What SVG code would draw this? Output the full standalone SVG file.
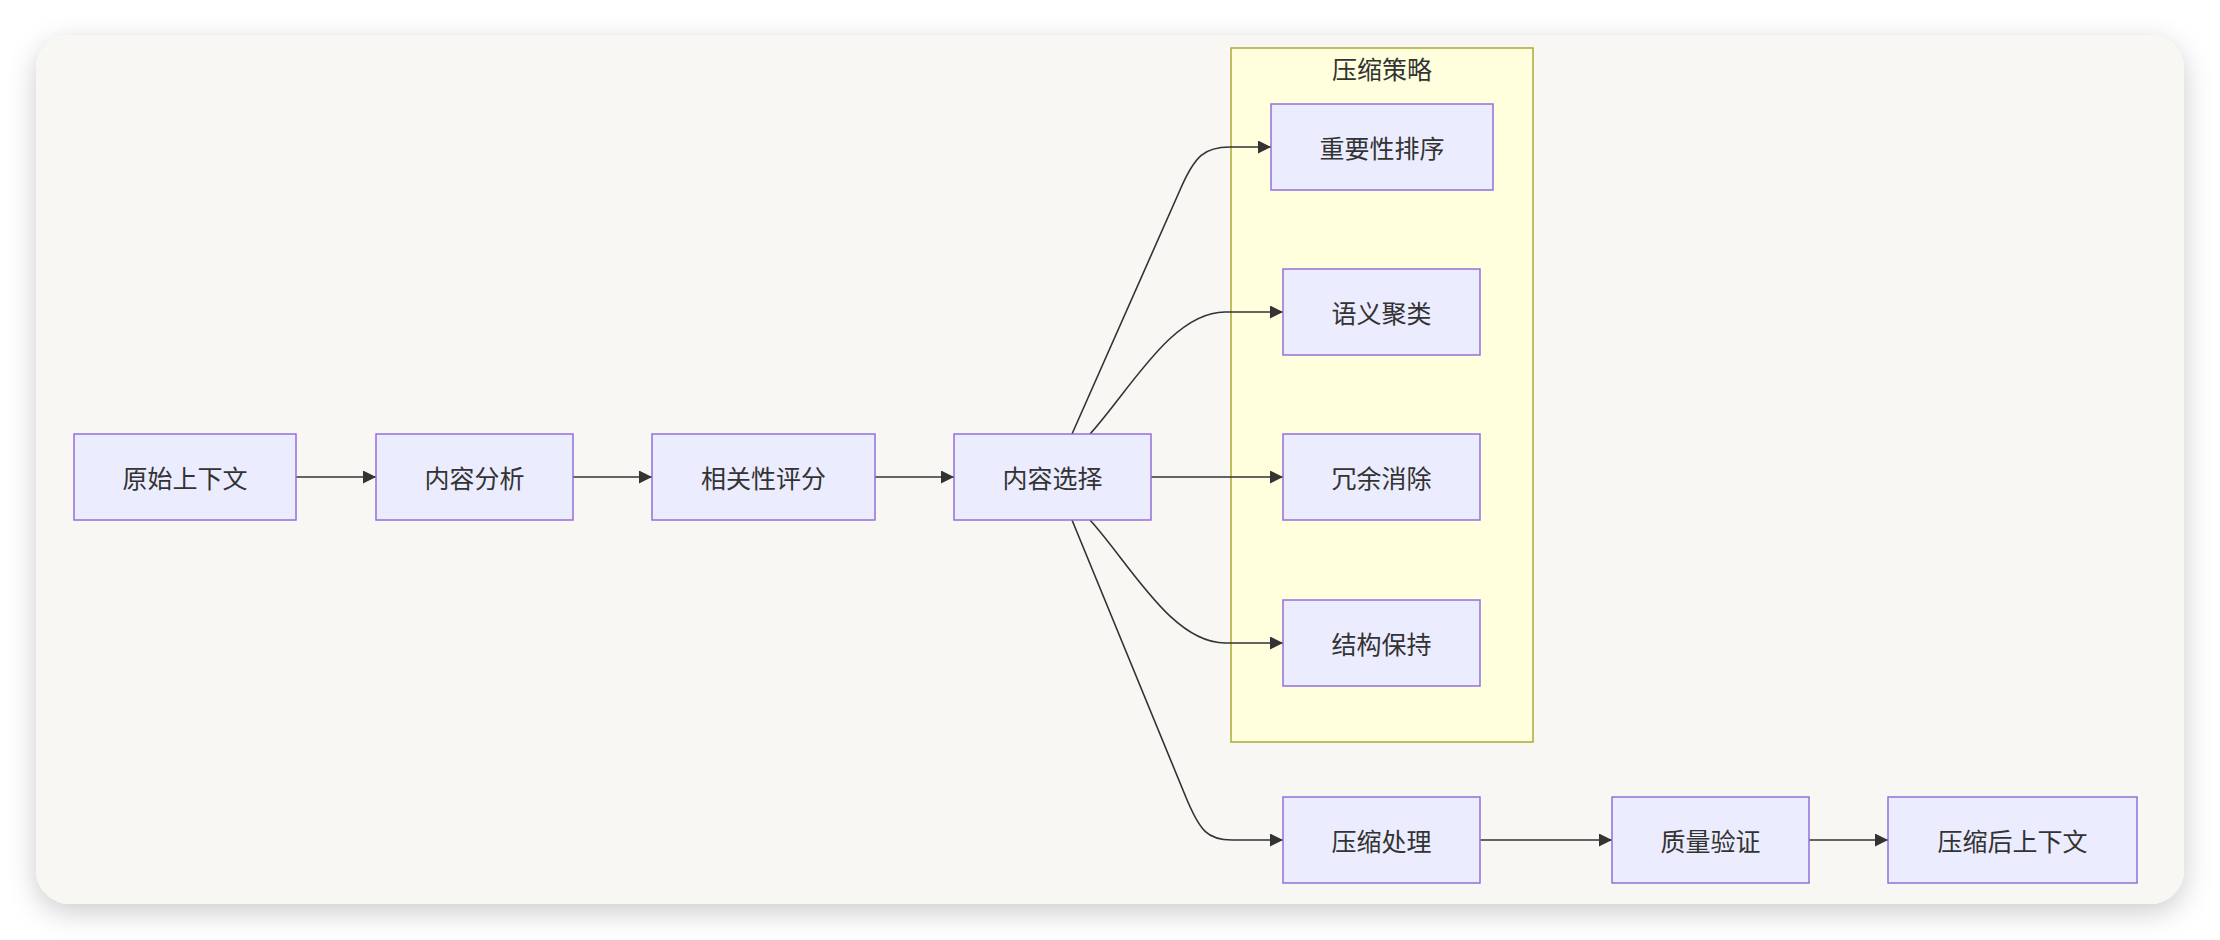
<svg xmlns="http://www.w3.org/2000/svg" width="2220" height="940" viewBox="0 0 2220 940">
<defs>
<filter id="shadow" x="-5%" y="-10%" width="110%" height="120%">
<feDropShadow dx="0" dy="8" stdDeviation="14" flood-color="#000" flood-opacity="0.2"/>
</filter>
<marker id="arrow" viewBox="0 0 10 10" refX="10" refY="5" markerWidth="13" markerHeight="13" markerUnits="userSpaceOnUse" orient="auto">
<path d="M0,0 L10,5 L0,10 z" fill="#333"/>
</marker>
<style>
.node rect{fill:#ececff;stroke:#9370db;stroke-width:1.5}
.node text,.cluster text{font-family:"Noto Sans CJK SC","Noto Sans",sans-serif;font-size:25px;fill:#333;text-anchor:middle;dominant-baseline:central}
.edges path{fill:none;stroke:#333;stroke-width:1.6;marker-end:url(#arrow)}
</style>
</defs>
<rect x="0" y="0" width="2220" height="940" fill="#ffffff"/>
<rect x="36" y="35" width="2148" height="869" rx="34" ry="34" fill="#f8f7f4" filter="url(#shadow)"/>
<g id="cluster-compress" class="cluster">
<rect x="1231" y="48" width="302" height="694" fill="#ffffde" stroke="#aaaa33" stroke-width="1.5"/>
<text x="1382" y="68">压缩策略</text>
</g>
<g id="edges" class="edges">
<path d="M296,477 L376,477"/>
<path d="M573,477 L652,477"/>
<path d="M875,477 L954,477"/>
<path d="M1072,434 L1180,190 C1195,155 1205,147 1230,147 L1271,147"/>
<path d="M1090,434 C1130,390 1172,312 1225,312 L1283,312"/>
<path d="M1151,477 L1283,477"/>
<path d="M1090,520 C1130,564 1172,643 1225,643 L1283,643"/>
<path d="M1072,520 L1185,795 C1200,832 1208,840 1232,840 L1283,840"/>
<path d="M1480,840 L1612,840"/>
<path d="M1809,840 L1888,840"/>
</g>
<g id="node-A" class="node"><rect x="74" y="434" width="222" height="86"/><text x="185" y="477">原始上下文</text></g>
<g id="node-B" class="node"><rect x="376" y="434" width="197" height="86"/><text x="474.5" y="477">内容分析</text></g>
<g id="node-C" class="node"><rect x="652" y="434" width="223" height="86"/><text x="763.5" y="477">相关性评分</text></g>
<g id="node-D" class="node"><rect x="954" y="434" width="197" height="86"/><text x="1052.5" y="477">内容选择</text></g>
<g id="node-E" class="node"><rect x="1271" y="104" width="222" height="86"/><text x="1382" y="147">重要性排序</text></g>
<g id="node-F" class="node"><rect x="1283" y="269" width="197" height="86"/><text x="1381.5" y="312">语义聚类</text></g>
<g id="node-G" class="node"><rect x="1283" y="434" width="197" height="86"/><text x="1381.5" y="477">冗余消除</text></g>
<g id="node-H" class="node"><rect x="1283" y="600" width="197" height="86"/><text x="1381.5" y="643">结构保持</text></g>
<g id="node-I" class="node"><rect x="1283" y="797" width="197" height="86"/><text x="1381.5" y="840">压缩处理</text></g>
<g id="node-J" class="node"><rect x="1612" y="797" width="197" height="86"/><text x="1710.5" y="840">质量验证</text></g>
<g id="node-K" class="node"><rect x="1888" y="797" width="249" height="86"/><text x="2012.5" y="840">压缩后上下文</text></g>
</svg>
